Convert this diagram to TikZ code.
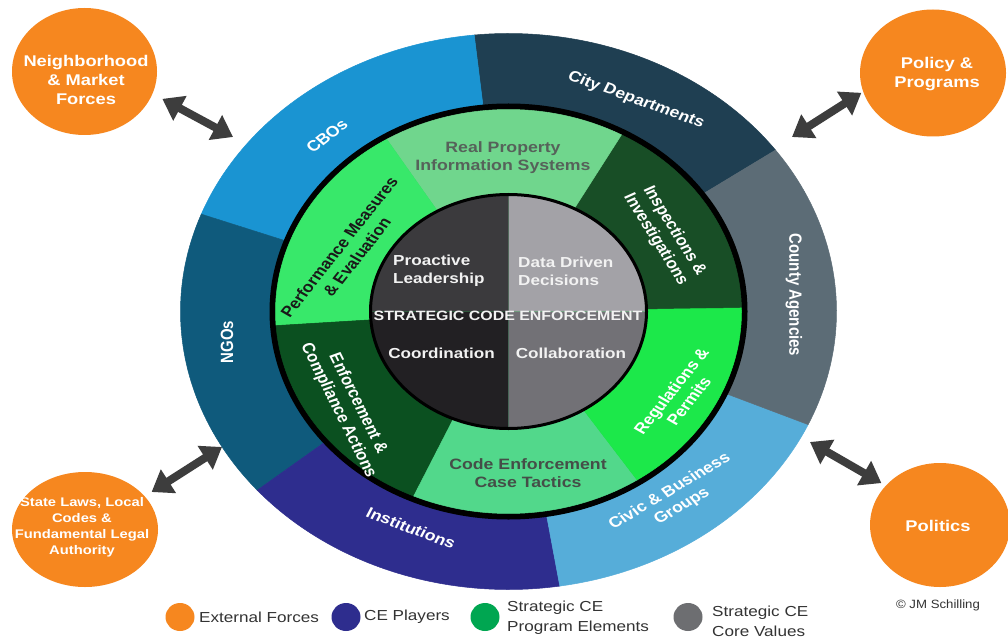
\documentclass[tikz,border=0pt]{standalone}
\usepackage{fontspec}
\setmainfont{Liberation Sans}
\usetikzlibrary{arrows.meta, shapes.geometric}
\definecolor{ExtOrange}{HTML}{F6871F}
\definecolor{CboBlue}{HTML}{1A94D2}
\definecolor{CityNavy}{HTML}{1F3F52}
\definecolor{CountySlate}{HTML}{5C6C76}
\definecolor{CivicBlue}{HTML}{56ADD9}
\definecolor{InstIndigo}{HTML}{2E2D8E}
\definecolor{NgoTeal}{HTML}{0F5A7C}
\definecolor{RealGreen}{HTML}{70D68D}
\definecolor{PerfGreen}{HTML}{38E86A}
\definecolor{EnfGreen}{HTML}{0B5020}
\definecolor{TactGreen}{HTML}{52D88B}
\definecolor{RegGreen}{HTML}{1CE84A}
\definecolor{InspGreen}{HTML}{184E26}
\definecolor{CoreTL}{HTML}{3B3A3D}
\definecolor{CoreBL}{HTML}{222023}
\definecolor{CoreTR}{HTML}{A3A2A7}
\definecolor{CoreBR}{HTML}{727176}
\definecolor{LabelGray}{HTML}{56625A}
\definecolor{ArrowGray}{HTML}{3D3D3D}
\definecolor{LegGreen}{HTML}{00A651}
\definecolor{LegGray}{HTML}{6D6E71}
\definecolor{TextGray}{HTML}{333333}
\def\sx{1.18}

\begin{document}
\begin{tikzpicture}[x=1pt, y=1pt,
    ringtxt/.style={font=\fontsize{15}{18}\selectfont\bfseries, text=white, align=center, inner sep=0pt, xscale=\sx},
    coretxt/.style={font=\fontsize{14.5}{18}\selectfont\bfseries, text=white!95!black, inner sep=0pt, xscale=\sx},
    extc/.style={ellipse, fill=ExtOrange, inner sep=0pt},
    exttxt/.style={font=\fontsize{15.5}{19}\selectfont\bfseries, text=white, align=center, inner sep=0pt, xscale=\sx},
    dblarrow/.style={draw=ArrowGray, line width=8pt, {Triangle[length=20pt, width=27pt]}-{Triangle[length=20pt, width=27pt]}},
    legdot/.style={ellipse, minimum width=29pt, minimum height=28pt, inner sep=0pt},
    legtxt/.style={font=\fontsize{14.5}{20}\selectfont, text=TextGray, align=left, anchor=west, inner sep=0pt, xscale=\sx}]

\fill[white] (0,0) rectangle (1008,641);
\useasboundingbox (0,0) rectangle (1008,641);

% anillos
\begin{scope}[shift={(508.5,329.5)}]
  % jugadores: desde/hasta/color
  \foreach \a/\b/\c in {35.5/96/CityNavy, 96/159.5/CboBlue, 159.5/220/NgoTeal,
      220/279/InstIndigo, 279/336/CivicBlue, 336/395.5/CountySlate}{%
    \fill[\c, draw=\c, line width=0.5pt] (0,0) -- (\a:328pt and 278pt)
      arc[start angle=\a, end angle=\b, x radius=328pt, y radius=278pt] -- cycle;
  }
  \fill[black] (0,0) ellipse[x radius=239pt, y radius=208pt];
  % elementos del programa
  \foreach \a/\b/\c in {1/61/InspGreen, 61/121.5/RealGreen, 121.5/184/PerfGreen,
      184/246/EnfGreen, 246/303.5/TactGreen, 303.5/361/RegGreen}{%
    \fill[\c, draw=\c, line width=0.5pt] (0,0) -- (\a:233pt and 202pt)
      arc[start angle=\a, end angle=\b, x radius=233pt, y radius=202pt] -- cycle;
  }
  % valores
  \foreach \a/\c in {0/CoreTR, 90/CoreTL, 180/CoreBL, 270/CoreBR}{%
    \fill[\c] (0,0) -- (\a:138pt and 117pt)
      arc[start angle=\a, delta angle=90, x radius=138pt, y radius=117pt] -- cycle;
  }
  \draw[black, line width=3pt] (0,0) ellipse[x radius=138pt, y radius=117pt];
\end{scope}

% etiquetas anillo exterior: nombre/x/y/giro/texto
\foreach \n/\x/\y/\r/\t in {cbo/327/505/43/CBOs, city/636/541/-23/City Departments,
    cnty/794/346/-90/County Agencies, civ/676/142/35/{Civic \& Business\\Groups},
    inst/411/113/-24/Institutions, ngo/227/299/90/NGOs}{%
  \node[ringtxt, rotate=\r] (\n) at (\x,\y) {\t};
}

% etiquetas anillo medio
\node[ringtxt, text=LabelGray] (rpis) at (503,483) {Real Property\\Information Systems};
\node[ringtxt, text=black!90, rotate=56] (pme) at (348,389) {Performance Measures\\\& Evaluation};
\node[ringtxt, rotate=-62] (insp) at (665,406) {Inspections \&\\Investigations};
\node[ringtxt, rotate=-67] (enfc) at (348,234) {Enforcement \&\\Compliance Actions};
\node[ringtxt, rotate=56] (regp) at (680,245) {Regulations \&\\Permits};
\node[ringtxt, text=LabelGray!80!black] (cect) at (528,168) {Code Enforcement\\Case Tactics};

% nucleo
\node[coretxt, align=left, anchor=west] (lead) at (393,370) {Proactive\\Leadership};
\node[coretxt, align=left, anchor=west] (data) at (518,370) {Data Driven\\Decisions};
\node[coretxt, font=\fontsize{13.5}{16}\selectfont\bfseries] (sce) at (508,325) {STRATEGIC CODE ENFORCEMENT};
\node[coretxt] (coord) at (441.5,288) {Coordination};
\node[coretxt] (collab) at (571,288) {Collaboration};

% fuerzas externas
\node[extc, minimum width=145pt, minimum height=127pt] (nbh) at (84.5,569.5) {};
\node[exttxt] (nbhT) at (86,561) {Neighborhood\\\& Market\\Forces};
\node[extc, minimum width=146pt, minimum height=127pt] (pol) at (933,568) {};
\node[exttxt] (polT) at (937,567) {Policy \&\\Programs};
\node[extc, minimum width=146pt, minimum height=115pt] (law) at (85,111.5) {};
\node[exttxt, font=\fontsize{12.5}{16}\selectfont\bfseries] (lawT) at (82,114)
  {State Laws, Local\\Codes \&\\Fundamental Legal\\Authority};
\node[extc, minimum width=140pt, minimum height=124pt] (plt) at (940,116) {};
\node[exttxt] (pltT) at (938,115) {Politics};

% flechas dobles
\coordinate (nbhR) at (233,504);
\coordinate (polR) at (792,504);
\coordinate (lawR) at (222,194);
\coordinate (pltR) at (810,199);
\draw[dblarrow, shorten <=11pt] (nbh.-18) -- (nbhR);
\draw[dblarrow, shorten <=2pt] (pol.195.7) -- (polR);
\draw[dblarrow, shorten <=8pt] (law.29.2) -- (lawR);
\draw[dblarrow, shorten <=5pt] (plt.144.6) -- (pltR);

% leyenda
\node[legdot, fill=ExtOrange] (lgExt) at (180,24) {};
\node[legtxt] (lgExtT) at (199,24) {External Forces};
\node[legdot, fill=InstIndigo] (lgPly) at (346,24) {};
\node[legtxt] (lgPlyT) at (364,24) {CE Players};
\node[legdot, fill=LegGreen] (lgPrg) at (485,24) {};
\node[legtxt] (lgPrgT) at (507,23) {Strategic CE\\Program Elements};
\node[legdot, fill=LegGray] (lgVal) at (688,24) {};
\node[legtxt] (lgValT) at (712,20) {Strategic CE\\Core Values};

\node[font=\fontsize{12}{14}\selectfont, text=TextGray, xscale=1.1] (copy) at (938,36) {© JM Schilling};

\end{tikzpicture}
\end{document}
